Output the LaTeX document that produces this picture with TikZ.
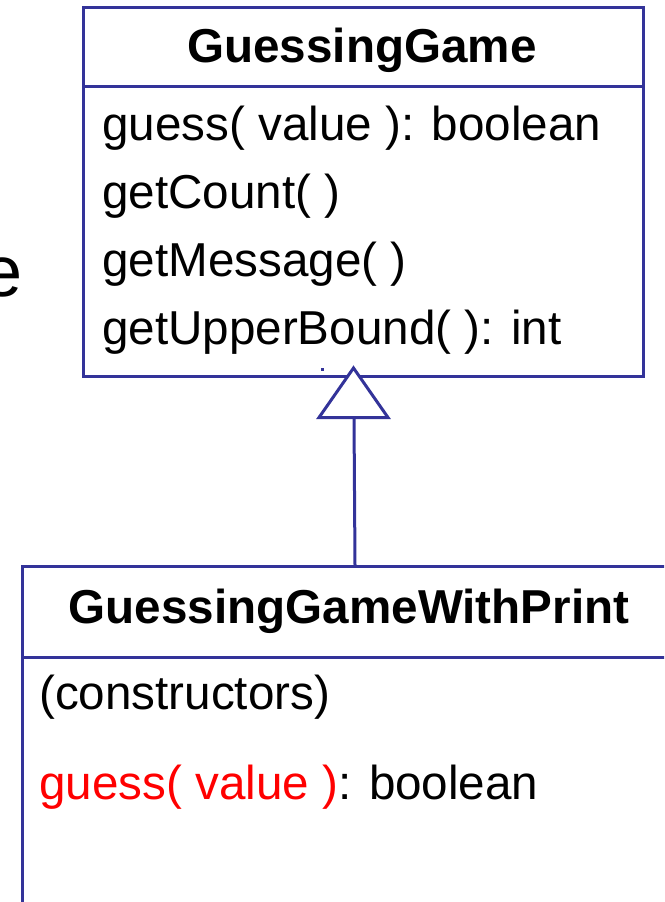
\documentclass[tikz,border=0pt]{standalone}
\usepackage{fontspec}
\setmainfont{Liberation Sans}
\definecolor{umlblue}{RGB}{51,51,153}
\definecolor{umlred}{RGB}{255,0,0}
\begin{document}
\begin{tikzpicture}[x=1pt,y=-1pt,
  umlline/.style={draw=umlblue, line width=3pt},
  umlbox/.style={umlline, rectangle, inner sep=0pt, anchor=north west},
  txt/.style={font=\fontsize{47.6}{57}\selectfont, inner sep=0pt, anchor=base west},
  hdr/.style={font=\fontsize{47.6}{57}\selectfont\bfseries, inner sep=0pt, anchor=base},
  bigtxt/.style={font=\fontsize{72}{86}\selectfont, inner sep=0pt, anchor=base east}]
\useasboundingbox (0,0) rectangle (664,902);
\clip (0,0) rectangle (664,902);
% left cut-off text
\node[bigtxt] (frag) at (23,296) {e};
% superclass box
\node[umlbox, minimum width=560pt, minimum height=369pt] (gg) at (82,6) {};
\draw[umlline] (82,86) -- (642,86);
\node[hdr] (ggname) at (362,62) {GuessingGame};
\node[txt] (m1) at (102,140) {guess( value ): boolean};
\node[txt] (m2) at (102,208) {getCount( )};
\node[txt] (m3) at (102,276) {getMessage( )};
\node[txt] (m4) at (102,344) {getUpperBound( ): int};
\fill[umlblue] (320.5,367.5) rectangle (323.5,370.5);
% subclass box (extends past the right and bottom edges)
\node[umlbox, minimum width=656pt, minimum height=420pt] (gw) at (21,565) {};
\draw[umlline] (21,657) -- (680,657);
\node[hdr] (gwname) at (349,623) {GuessingGameWithPrint};
\node[txt] (c1) at (39,709) {(constructors)};
\node[txt] (m5) at (39,799) {\textcolor{umlred}{guess( value )}: boolean};
% generalization arrow
\coordinate (apex) at (353.5,368);
\coordinate (bl) at (319,417.5);
\coordinate (br) at (388,417.5);
\coordinate (tribase) at (354,417.5);
\coordinate (subtop) at (355,565);
\draw[umlline] (tribase) -- (subtop);
\draw[umlline, fill=white, line join=miter] (apex) -- (bl) -- (br) -- cycle;
\end{tikzpicture}
\end{document}
